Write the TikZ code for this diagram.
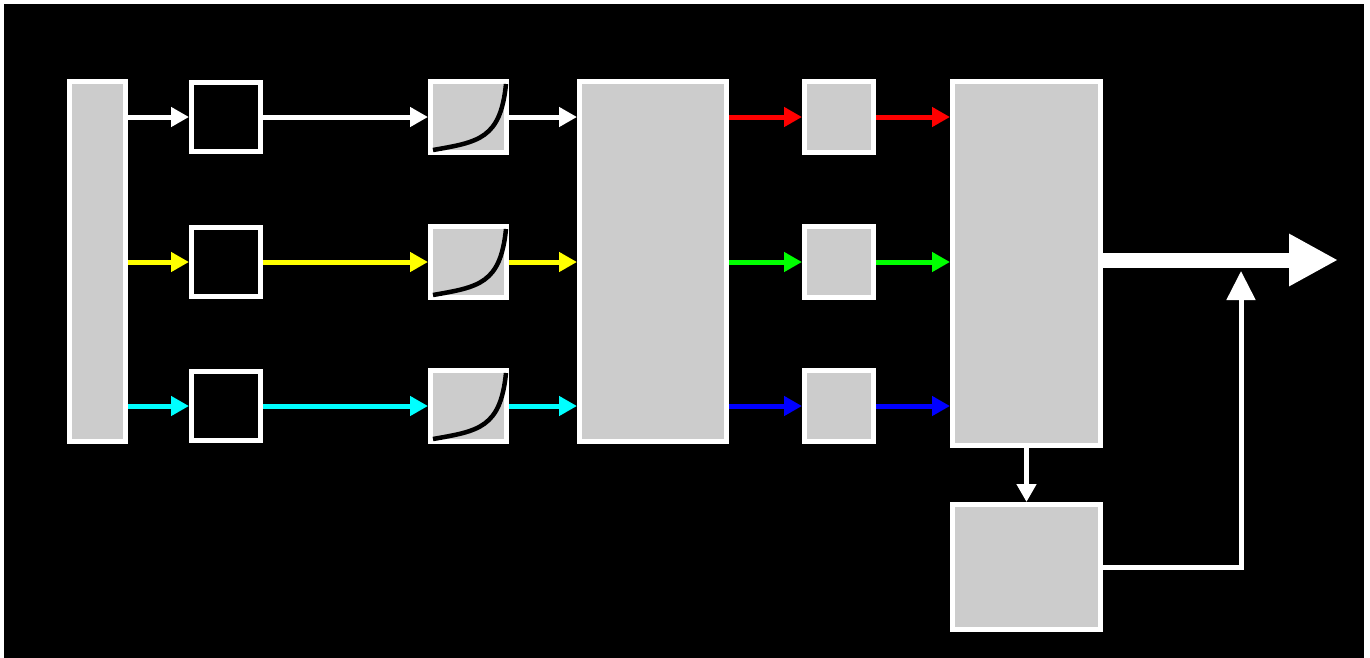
\documentclass[tikz,border=0pt]{standalone}
\usetikzlibrary{arrows.meta}
\definecolor{boxgray}{HTML}{CCCCCC}
\definecolor{cred}{HTML}{FF0000}
\definecolor{cgreen}{HTML}{00FF00}
\definecolor{cblue}{HTML}{0000FF}
\definecolor{cyellow}{HTML}{FFFF00}
\definecolor{ccyan}{HTML}{00FFFF}
\begin{document}
\begin{tikzpicture}[x=1pt,y=-1pt,
  box/.style={draw=white,line width=5pt,fill=boxgray,inner sep=0pt,outer sep=2.5pt,rectangle},
  dbox/.style={box,fill=black},
  arr/.style={line width=5pt,-{Triangle[length=18pt,width=19pt]}},
  curve/.style={draw=black,line width=4.5pt}
]
\useasboundingbox (0,0) rectangle (1370,657);
\fill[white] (0,0) rectangle (1370,662);
\fill[black] (4,4) rectangle (1364,662);

% column 1
\node[box,minimum width=56pt,minimum height=360pt] (b1) at (97.5,261.5) {};
% column 2
\node[dbox,minimum width=69pt,minimum height=69pt] (b2a) at (226,117) {};
\node[dbox,minimum width=69pt,minimum height=69pt] (b2b) at (226,262) {};
\node[dbox,minimum width=69pt,minimum height=69pt] (b2c) at (226,406) {};
% column 3
\node[box,minimum width=76pt,minimum height=71pt] (b3a) at (468.5,117) {};
\node[box,minimum width=76pt,minimum height=71pt] (b3b) at (468.5,262) {};
\node[box,minimum width=76pt,minimum height=71pt] (b3c) at (468.5,406) {};
% column 4
\node[box,minimum width=147pt,minimum height=360pt] (b4) at (653,261.5) {};
% column 5
\node[box,minimum width=69pt,minimum height=71pt] (b5a) at (839,117) {};
\node[box,minimum width=69pt,minimum height=71pt] (b5b) at (839,262) {};
\node[box,minimum width=69pt,minimum height=71pt] (b5c) at (839,406) {};
% column 6
\node[box,minimum width=148pt,minimum height=364pt] (b6) at (1026.5,263.5) {};
\node[box,minimum width=148pt,minimum height=125pt] (b7) at (1026.5,567) {};

% curves
\foreach \n in {b3a,b3b,b3c}{
  \draw[curve] ([shift={(-35.5,33)}]\n.center) .. controls ([shift={(10,25)}]\n.center) and ([shift={(32,22)}]\n.center) .. ([shift={(37.5,-33)}]\n.center);
}

% row arrows
\draw[arr,white] (b1.east |- b2a.west) -- (b2a.west);
\draw[arr,cyellow] (b1.east |- b2b.west) -- (b2b.west);
\draw[arr,ccyan] (b1.east |- b2c.west) -- (b2c.west);
\draw[arr,white] (b2a.east) -- (b3a.west);
\draw[arr,cyellow] (b2b.east) -- (b3b.west);
\draw[arr,ccyan] (b2c.east) -- (b3c.west);
\draw[arr,white] (b3a.east) -- (b4.west |- b3a.east);
\draw[arr,cyellow] (b3b.east) -- (b4.west |- b3b.east);
\draw[arr,ccyan] (b3c.east) -- (b4.west |- b3c.east);
\draw[arr,cred] (b4.east |- b5a.west) -- (b5a.west);
\draw[arr,cgreen] (b4.east |- b5b.west) -- (b5b.west);
\draw[arr,cblue] (b4.east |- b5c.west) -- (b5c.west);
\draw[arr,cred] (b5a.east) -- (b6.west |- b5a.east);
\draw[arr,cgreen] (b5b.east) -- (b6.west |- b5b.east);
\draw[arr,cblue] (b5c.east) -- (b6.west |- b5c.east);

% down arrow
\draw[arr,white] (b6.south) -- (b7.north);

% output arrow
\coordinate (out) at (1338,260);
\draw[white,line width=15pt,-{Triangle[length=49pt,width=49pt]}] (b6.east |- out) -- (out);

% feedback
\coordinate (fb) at (1241,271);
\draw[white,line width=5pt,-{Triangle[length=29pt,width=28pt]}] (b7.east) -| (fb);
\end{tikzpicture}
\end{document}
